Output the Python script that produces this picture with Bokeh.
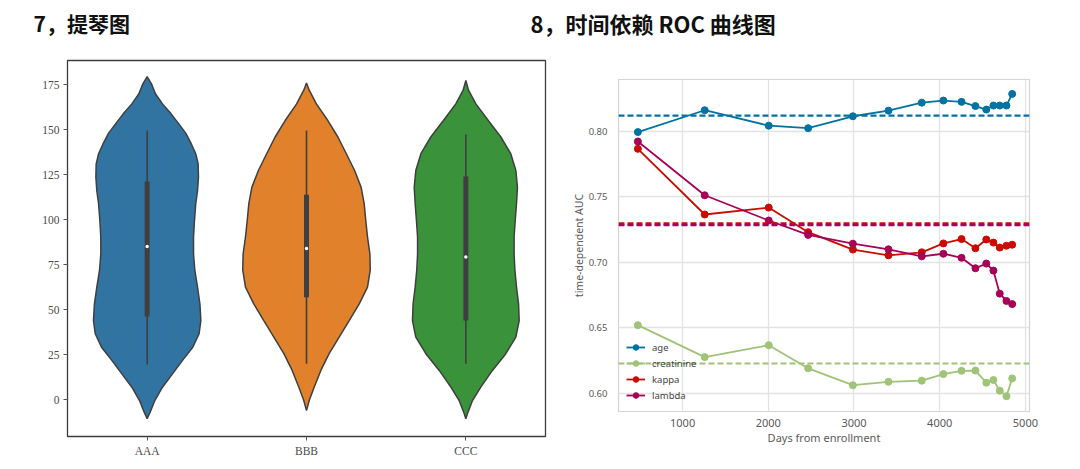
from bokeh.plotting import figure
from bokeh.layouts import row, column
from bokeh.models import Range1d, FixedTicker, PrintfTickFormatter, Span, Label, Legend, LegendItem
from bokeh.embed import file_html
from bokeh.resources import INLINE

# ---------------- Violin plot data ----------------
categories = ["AAA", "BBB", "CCC"]
violin_colors = ["#3274a1", "#e1812c", "#3a923a"]

aaa_levels = [179.6, 175.5, 170, 164.4, 159, 153, 148, 142, 136.7, 131, 123.7, 116, 109, 99.6,
              90.4, 81, 72, 62.6, 53.3, 44, 36.7, 29, 21.9, 14.4, 7, -0.4, -6, -10.5]
aaa_half = [0.0, 0.027, 0.052, 0.096, 0.149, 0.201, 0.243, 0.278, 0.305, 0.320, 0.322, 0.316, 0.305, 0.297,
            0.291, 0.291, 0.299, 0.316, 0.331, 0.337, 0.326, 0.285, 0.222, 0.159, 0.096, 0.048, 0.023, 0.0]

bbb_levels = [176, 172, 164.4, 155, 146, 136.7, 127.4, 118, 109, 99.6, 90.4, 81, 72, 62.6,
              53.3, 44, 34.8, 25.6, 16.3, 7, -0.4, -6]
bbb_half = [0.0, 0.017, 0.062, 0.135, 0.197, 0.250, 0.302, 0.343, 0.362, 0.372, 0.383, 0.398, 0.400, 0.383,
            0.331, 0.268, 0.205, 0.142, 0.090, 0.048, 0.017, 0.0]

ccc_levels = [177.4, 172, 164.4, 155, 146, 136.7, 127.4, 118, 109, 99.6, 90.4, 81, 72, 62.6,
              53.3, 44, 34.8, 25.6, 16.3, 7, -0.4, -7.8, -10.5]
ccc_half = [0.0, 0.017, 0.063, 0.142, 0.220, 0.282, 0.314, 0.324, 0.318, 0.310, 0.303, 0.303, 0.308, 0.318,
            0.331, 0.335, 0.314, 0.251, 0.167, 0.094, 0.042, 0.010, 0.0]

whisker_low = [19.6, 20.0, 20.0]
whisker_high = [149.6, 149.6, 147.4]
box_q1 = [46.3, 57.0, 44.0]
box_q3 = [121.3, 113.9, 124.0]
medians = [85.2, 84.0, 79.3]

violin_ticks = [0, 25, 50, 75, 100, 125, 150, 175]

# ---------------- Time-dependent ROC data ----------------
days = [478, 1258, 2005, 2465, 2987, 3402, 3791, 4043, 4255, 4417, 4544, 4627, 4701, 4779, 4846]
auc_age = [0.7996, 0.8163, 0.8045, 0.8026, 0.8117, 0.8160, 0.8221, 0.8237, 0.8227, 0.8195, 0.8168,
           0.8199, 0.8199, 0.8199, 0.8288]
auc_creatinine = [0.6520, 0.6276, 0.6367, 0.6190, 0.6061, 0.6087, 0.6096, 0.6146, 0.6171, 0.6173, 0.6080,
                  0.6101, 0.6019, 0.5977, 0.6113]
auc_kappa = [0.7868, 0.7366, 0.7419, 0.7231, 0.7098, 0.7054, 0.7077, 0.7145, 0.7178, 0.7108, 0.7175,
             0.7151, 0.7113, 0.7127, 0.7135]
auc_lambda = [0.7924, 0.7513, 0.7320, 0.7210, 0.7143, 0.7100, 0.7046, 0.7066, 0.7035, 0.6955, 0.6991,
              0.6937, 0.6761, 0.6705, 0.6681]
mean_auc = {"age": 0.8122, "creatinine": 0.6227, "kappa": 0.7298, "lambda": 0.7284}
series_names = ["age", "creatinine", "kappa", "lambda"]
series_colors = ["#0272a2", "#9fc377", "#ca0b03", "#a50258"]
roc_xticks = [1000, 2000, 3000, 4000, 5000]
roc_yticks = [0.60, 0.65, 0.70, 0.75, 0.80]

titles = ["7，提琴图", "8，时间依赖 ROC 曲线图"]

# ---------------- Title strip ----------------
pt = figure(width=1080, height=44, output_backend="svg", toolbar_location=None,
            x_range=Range1d(0, 1), y_range=Range1d(0, 1),
            min_border_left=0, min_border_right=0, min_border_top=0, min_border_bottom=0)
pt.frame_align = False
pt.axis.visible = False
pt.grid.visible = False
pt.outline_line_color = None
for tx, txt, fs in zip([33, 530], titles, ["21px", "22px"]):
    pt.add_layout(Label(x=tx, y=22, x_units="screen", y_units="screen", text=txt,
                        text_baseline="middle", text_align="left",
                        text_font="Noto Sans CJK SC", text_font_style="bold",
                        text_font_size=fs, text_color="#111111"))

# ---------------- Left: violin plot ----------------
p1 = figure(width=560, height=420, output_backend="svg", toolbar_location=None,
            x_range=Range1d(-0.5, 2.5), y_range=Range1d(-20.4, 188.5),
            min_border_left=67, min_border_right=15, min_border_top=16, min_border_bottom=28)
p1.frame_align = False
p1.grid.visible = False
p1.outline_line_color = "#3c3c3c"
p1.outline_line_width = 1.3

for ax in (p1.xaxis[0], p1.yaxis[0]):
    ax.axis_line_color = None
    ax.minor_tick_line_color = None
    ax.major_tick_in = 0
    ax.major_tick_out = 4
    ax.major_tick_line_color = "#555555"
    ax.major_label_text_font = "Liberation Serif"
    ax.major_label_text_font_size = "11.5px"
    ax.major_label_text_color = "#4a4a4a"
    ax.major_label_standoff = 4

p1.xaxis.ticker = FixedTicker(ticks=[0, 1, 2])
p1.xaxis.major_label_overrides = {i: c for i, c in enumerate(categories)}
p1.yaxis.ticker = FixedTicker(ticks=violin_ticks)

violin_levels = [aaa_levels, bbb_levels, ccc_levels]
violin_half = [aaa_half, bbb_half, ccc_half]
for i in range(len(categories)):
    lv = violin_levels[i]
    hw = violin_half[i]
    xs = [i - w for w in hw] + [i + w for w in reversed(hw)]
    ys = list(lv) + list(reversed(lv))
    p1.patch(xs, ys, fill_color=violin_colors[i], line_color="#3f3f3f", line_width=1.5)

pos = list(range(len(categories)))
p1.segment(x0=pos, y0=whisker_low, x1=pos, y1=whisker_high, line_color="#3f3f3f", line_width=1.6)
p1.segment(x0=pos, y0=box_q1, x1=pos, y1=box_q3, line_color="#3f3f3f", line_width=5)
p1.scatter(x=pos, y=medians, size=3.5, fill_color="white", line_color=None)

# ---------------- Right: time-dependent ROC ----------------
p2 = figure(width=515, height=420, output_backend="svg", toolbar_location=None,
            x_range=Range1d(252, 5048), y_range=Range1d(0.586, 0.8398),
            min_border_left=58, min_border_right=46, min_border_top=35, min_border_bottom=53)
p2.frame_align = False
p2.outline_line_color = "#d4d4d4"
p2.outline_line_width = 1.2
p2.grid.grid_line_color = "#e2e2e2"
p2.grid.grid_line_width = 1.3

for ax in (p2.xaxis[0], p2.yaxis[0]):
    ax.axis_line_color = None
    ax.minor_tick_line_color = None
    ax.major_tick_line_color = None
    ax.major_label_text_font = "Noto Sans"
    ax.major_label_text_color = "#5a5a5a"
    ax.axis_label_text_font = "Noto Sans"
    ax.axis_label_text_color = "#5a5a5a"
    ax.axis_label_text_font_style = "normal"

p2.xaxis.ticker = FixedTicker(ticks=roc_xticks)
p2.xaxis.major_label_text_font_size = "11px"
p2.xaxis.major_label_standoff = 1
p2.xaxis.axis_label = "Days from enrollment"
p2.xaxis.axis_label_text_font_size = "11px"
p2.xaxis.axis_label_standoff = 0

p2.yaxis.ticker = FixedTicker(ticks=roc_yticks)
p2.yaxis.formatter = PrintfTickFormatter(format="%.2f")
p2.yaxis.major_label_text_font_size = "9.5px"
p2.yaxis.major_label_standoff = 5
p2.yaxis.axis_label = "time-dependent AUC"
p2.yaxis.axis_label_text_font_size = "10.5px"
p2.yaxis.axis_label_standoff = 0

series_values = [auc_age, auc_creatinine, auc_kappa, auc_lambda]
for name, col in zip(series_names, series_colors):
    p2.add_layout(Span(location=mean_auc[name], dimension="width", line_color=col,
                       line_dash="6 3", line_width=2.2))

items = []
for name, col, vals in zip(series_names, series_colors, series_values):
    lr = p2.line(days, vals, line_color=col, line_width=1.8)
    sr = p2.scatter(days, vals, size=7, fill_color=col, line_color=col)
    items.append(LegendItem(label=name, renderers=[lr, sr]))

legend = Legend(items=items, location=(8, 9), border_line_color=None, background_fill_alpha=0,
                label_text_font="Noto Sans", label_text_font_size="9.5px", label_text_color="#444444",
                glyph_width=19, glyph_height=14, label_height=14, spacing=2, padding=0, margin=0,
                label_standoff=7)
p2.add_layout(legend)

layout = column(pt, row(p1, p2))
open("out.html", "w").write(file_html(layout, INLINE))
